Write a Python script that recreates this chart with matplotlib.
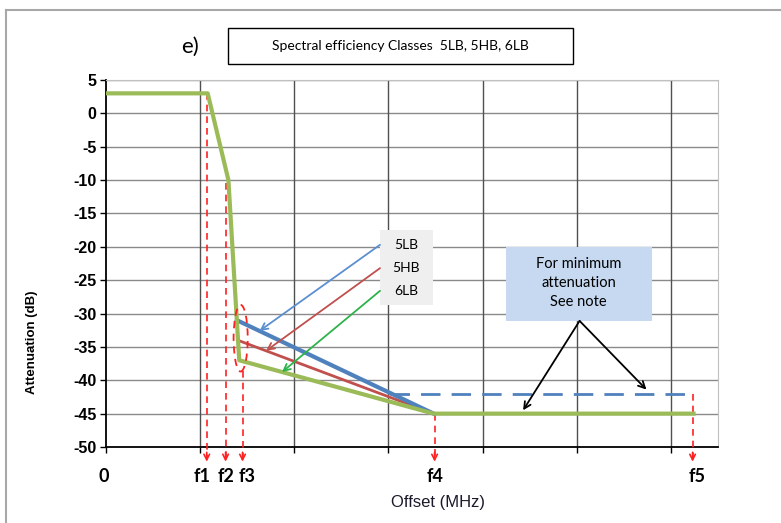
import numpy as np
import matplotlib
matplotlib.use('Agg')
import matplotlib.pyplot as plt
from matplotlib.patches import Rectangle, Ellipse
from matplotlib.lines import Line2D

plt.rcParams['font.family'] = ['Liberation Sans', 'DejaVu Sans']
plt.rcParams['axes.unicode_minus'] = False

# Mask data (offset in grid units, attenuation in dB)
green_x = [0, 1.08, 1.30, 1.415, 3.48, 6.24]   # 6LB
green_y = [3, 3, -10, -37, -45, -45]
blue_x = [1.39, 3.48]                          # 5LB
blue_y = [-31, -45]
brown_x = [1.40, 3.48]                         # 5HB
brown_y = [-34, -45]
blue_min_x = [3.02, 6.24]                      # 5LB minimum attenuation
blue_min_y = [-42, -42]

# frequency markers
f_names = ['f1', 'f2', 'f3', 'f4', 'f5']
f_pos = [1.07, 1.27, 1.45, 3.49, 6.23]
f_top = [3, -10.5, -38.6, -45, -42]
f_label_pos = [1.02, 1.27, 1.50, 3.49, 6.28]

classes = ['5LB', '5HB', '6LB']
class_colors = ['#5B8FD0', '#C0504D', '#2DB34A']
class_text_y = [-19.7, -23.2, -26.6]
class_target_x = [1.63, 1.70, 1.87]

W, H = 781, 523
fig = plt.figure(figsize=(W / 100, H / 100), dpi=100)
ax = fig.add_axes([106 / W, 1 - 447 / H, 612 / W, 367 / H])

ax.set_xlim(0, 6.5)
ax.set_ylim(-50, 5)
ax.set_yticks(np.arange(-50, 6, 5))
ax.set_xticks(np.arange(0, 7, 1))
ax.set_xticklabels([])
ax.tick_params(axis='y', length=4, width=1, labelsize=11.5, pad=3)
ax.tick_params(axis='x', length=4, width=1)
for lab in ax.get_yticklabels():
    lab.set_fontweight('bold')

# grid
for yv in np.arange(-45, 6, 5):
    ax.axhline(yv, color='#8a8a8a', lw=1, zorder=0)
for xv in range(1, 7):
    ax.axvline(xv, color='#505050', lw=1, zorder=0)
for s in ['top', 'right']:
    ax.spines[s].set_color('#c0c0c0')
for s in ['left', 'bottom']:
    ax.spines[s].set_color('black')
    ax.spines[s].set_linewidth(1.3)

# red dashed marker lines with arrowheads
for x, top in zip(f_pos, f_top):
    ax.plot([x, x], [top, -51.6], color='#FF2020', lw=1.2, ls=(0, (4, 3)),
            clip_on=False, zorder=3)
    ax.annotate('', xy=(x, -52.2), xytext=(x, -50.8),
                arrowprops=dict(arrowstyle='->', color='#FF2020', lw=1.2,
                                mutation_scale=10, shrinkA=0, shrinkB=0),
                annotation_clip=False)
ax.add_patch(Ellipse((1.43, -33.7), 0.15, 10, fill=False, ec='#FF2020',
                     lw=1.3, ls=(0, (4, 3)), zorder=7))

# mask lines
ax.plot(blue_min_x, blue_min_y, color='#4F81BD', lw=2, ls=(0, (7, 4)), zorder=4)
ax.plot(brown_x, brown_y, color='#C0504D', lw=2, zorder=4)
ax.plot(blue_x, blue_y, color='#4F81BD', lw=3, zorder=5)
ax.plot(green_x, green_y, color='#9BBB59', lw=3, zorder=6)

# class label box with arrows
ax.add_patch(Rectangle((2.907, -28.7), 0.563, 11.2, fc='#EFEFEF', ec='none', zorder=7))
series = [(blue_x, blue_y), (brown_x, brown_y), (green_x, green_y)]
for name, col, ty, tx, (sx, sy) in zip(classes, class_colors, class_text_y,
                                         class_target_x, series):
    ax.text(3.19, ty, name, family='Lato', fontsize=10, ha='center',
            va='center', color='black', zorder=8)
    ax.annotate('', xy=(tx, np.interp(tx, sx, sy)), xytext=(2.91, ty),
                arrowprops=dict(arrowstyle='->', color=col, lw=1.3,
                                mutation_scale=12, shrinkA=0, shrinkB=0),
                zorder=8)

# note box
ax.add_patch(Rectangle((4.246, -31.1), 1.55, 11.1, fc='#C6D9F1', ec='none', zorder=7))
ax.text(5.02, -25.4, 'For minimum\nattenuation\nSee note', family='Lato',
        fontsize=10.5, ha='center', va='center', linespacing=1.45,
        color='black', zorder=8)
for tx, ty in [(4.43, green_y[-1] + 0.5), (5.74, blue_min_y[-1] + 0.6)]:
    ax.annotate('', xy=(tx, ty), xytext=(5.03, -31.1),
                arrowprops=dict(arrowstyle='->', color='black', lw=1.3,
                                mutation_scale=12, shrinkA=0, shrinkB=0),
                zorder=8)

# x labels
ax.text(-0.02, -54.4, '0', family='Lato', fontweight='bold', fontsize=13,
        ha='center', va='center', clip_on=False)
for name, x in zip(f_names, f_label_pos):
    ax.text(x, -54.4, name, family='Lato', fontweight='bold', fontsize=13,
            ha='center', va='center', clip_on=False)

fig.text(438 / W, 1 - 502 / H, 'Offset (MHz)', fontsize=12, ha='center',
         va='center', color='#1a1a2a')
fig.text(32 / W, 1 - 342 / H, 'Attenuation (dB)', fontsize=9.5,
         fontweight='bold', rotation=90, ha='center', va='center')

# title area
fig.add_artist(Rectangle((228 / W, 1 - 64 / H), 345 / W, 36 / H,
                         transform=fig.transFigure, fc='white', ec='black', lw=1))
fig.text(400 / W, 1 - 46 / H, 'Spectral efficiency Classes  5LB, 5HB, 6LB',
         family='Lato', fontsize=10, ha='center', va='center')
fig.text(190 / W, 1 - 47 / H, 'e)', family='Lato', fontsize=16,
         ha='center', va='center')

# outer frame (top and left edges)
fig.add_artist(Line2D([6 / W, 1], [1 - 10 / H, 1 - 10 / H],
                      transform=fig.transFigure, color='#a8a8a8', lw=1.5))
fig.add_artist(Line2D([6 / W, 6 / W], [0, 1 - 10 / H],
                      transform=fig.transFigure, color='#a8a8a8', lw=1.5))

fig.savefig('out.png', dpi=100)
